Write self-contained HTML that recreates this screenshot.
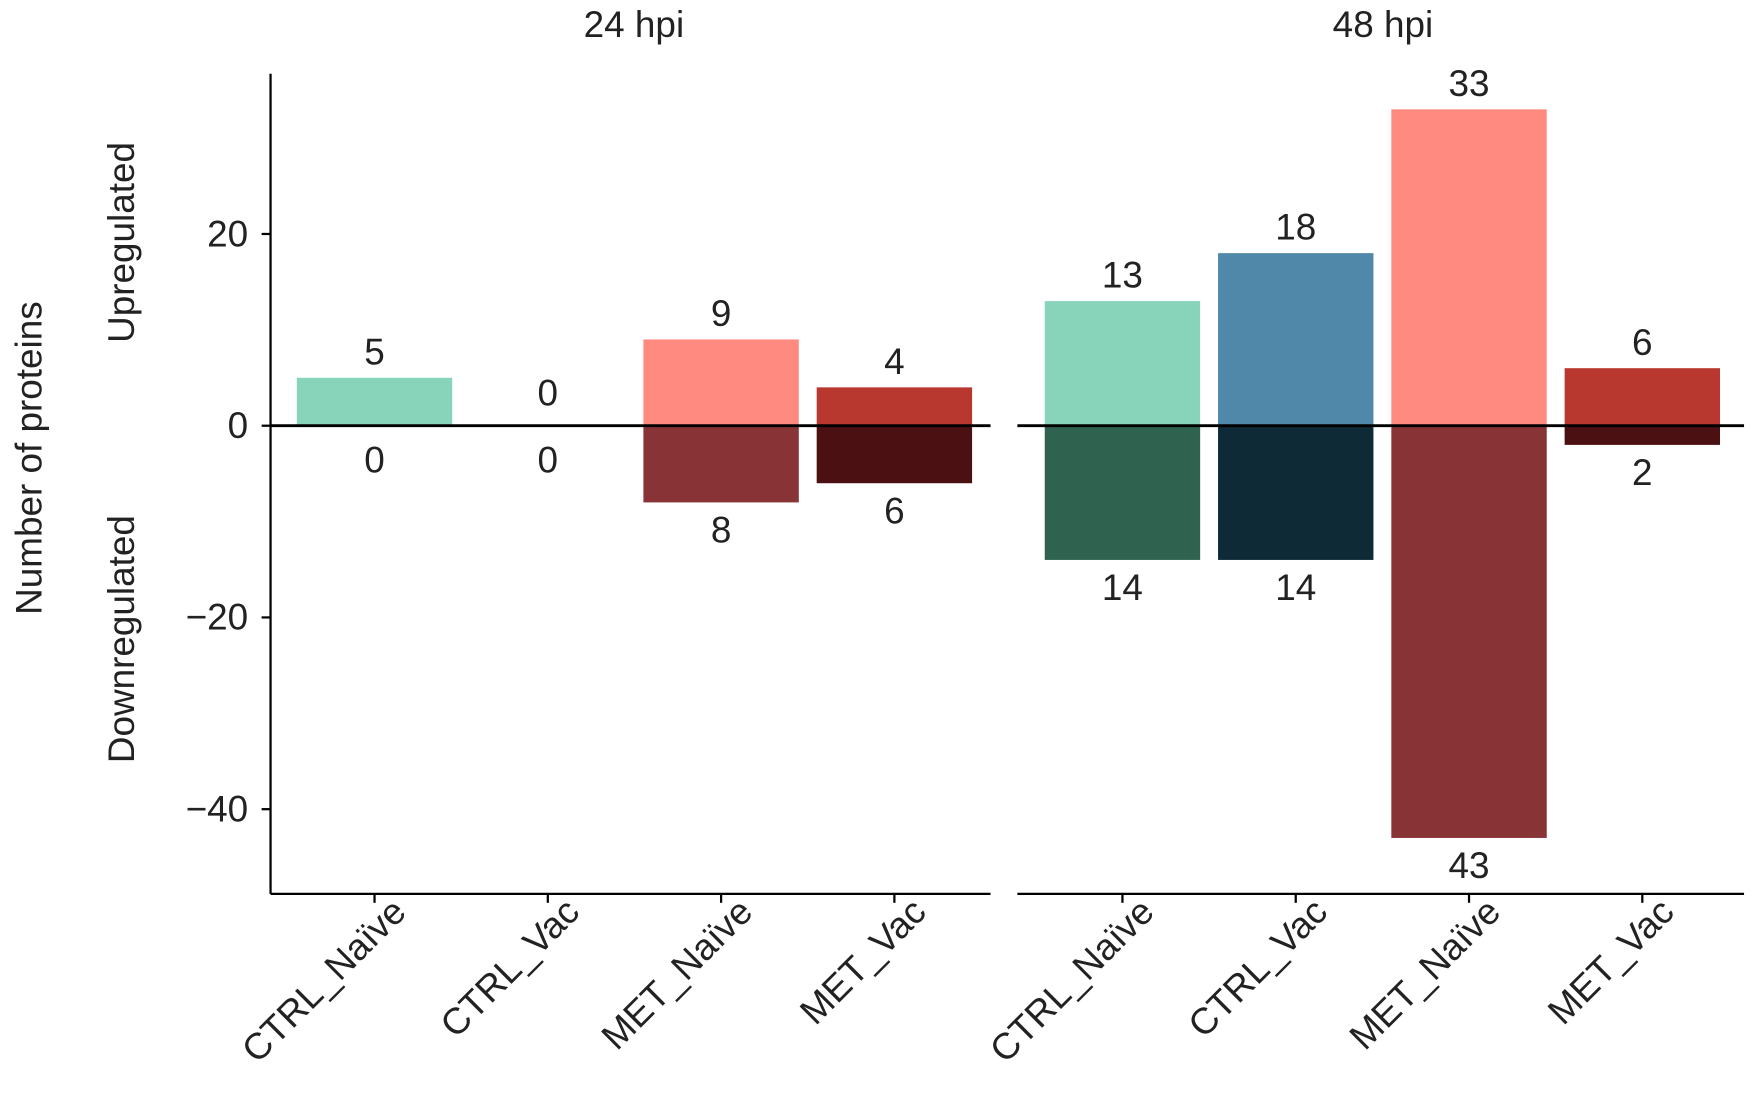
<!DOCTYPE html>
<html><head><meta charset="utf-8"><style>
body{margin:0;background:#fff;}
svg{display:block;font-family:"Liberation Sans","DejaVu Sans",sans-serif;}
</style></head><body>
<svg id="chart" width="1753" height="1095" viewBox="0 0 1568 980" preserveAspectRatio="none">
<g id="g"></g>
</svg>
<script>
const categories = ["CTRL_Naïve","CTRL_Vac","MET_Naïve","MET_Vac"];
const panels = ["24 hpi","48 hpi"];
const up24 = [5,0,9,4];
const down24 = [0,0,8,6];
const up48 = [13,18,33,6];
const down48 = [14,14,43,2];
const yTicks = [20,0,-20,-40];
const upColors = ["#87d4bb","#4f88a8","#fe8a80","#b8372e"];
const downColors = ["#2f6350","#0d2a36","#883336","#4a1012"];

const NS="http://www.w3.org/2000/svg";
const g=document.getElementById('g');
function el(t,a,txt){const e=document.createElementNS(NS,t);for(const k in a)e.setAttribute(k,a[k]);if(txt!==undefined)e.textContent=txt;g.appendChild(e);return e;}
const y=v=>381-v*8.58;
const FS=33;
const panelX=[{x0:242,x1:886,first:335},{x0:910,x1:1560,first:1004}];
const step=155, bw=139;
const ups=[up24,up48], downs=[down24,down48];

let e=el('line',{x1:242,y1:66,x2:242,y2:800,stroke:'#000','stroke-width':2});

yTicks.forEach(t=>{
 let l=el('line',{x1:234,y1:y(t),x2:242,y2:y(t),stroke:'#000','stroke-width':2});
 
 let tx=el('text',{x:222,y:y(t)+11,'text-anchor':'end','font-size':FS,fill:'#222'},t<0?'\u2212'+(-t):String(t));
 
});
e=el('text',{transform:'translate(37,410) rotate(-90)','text-anchor':'middle','font-size':FS,fill:'#222'},'Number of proteins');

e=el('text',{transform:'translate(120,217) rotate(-90)','text-anchor':'middle','font-size':FS,fill:'#222'},'Upregulated');

e=el('text',{transform:'translate(120,572) rotate(-90)','text-anchor':'middle','font-size':FS,fill:'#222'},'Downregulated');


panels.forEach((p,pi)=>{
 const P=panelX[pi];
 let t=el('text',{x:pi?1237:567,y:33,'text-anchor':'middle','font-size':FS,fill:'#222'},p);
 
 let ax=el('line',{x1:P.x0,y1:800,x2:P.x1,y2:800,stroke:'#000','stroke-width':2});
 
 categories.forEach((c,i)=>{
  const cx=P.first+i*step;
  const u=ups[pi][i], d=downs[pi][i];
  if(u>0){let r=el('rect',{x:cx-bw/2,y:y(u),width:bw,height:y(0)-y(u),fill:upColors[i]});
   }
  if(d>0){let r=el('rect',{x:cx-bw/2,y:y(0),width:bw,height:y(-d)-y(0),fill:downColors[i]});
   }
  let lu=el('text',{x:cx,y:y(u)-12,'text-anchor':'middle','font-size':FS,fill:'#222'},String(u));
  if(u===0)lu.setAttribute('y',y(0)-18);
  
  let ld=el('text',{x:cx,y:y(-d)+36,'text-anchor':'middle','font-size':FS,fill:'#222'},String(d));
  if(d===0)ld.setAttribute('y',y(0)+42);
  
  let tk=el('line',{x1:cx,y1:800,x2:cx,y2:808,stroke:'#000','stroke-width':2});
  
  let xl=el('text',{transform:`translate(${cx+30},${818}) rotate(-45)`,'text-anchor':'end','font-size':FS,fill:'#222'},c);
  
 });
 let z=el('line',{x1:P.x0,y1:y(0),x2:P.x1,y2:y(0),stroke:'#000','stroke-width':2.5});
 
});
</script>
</body></html>
